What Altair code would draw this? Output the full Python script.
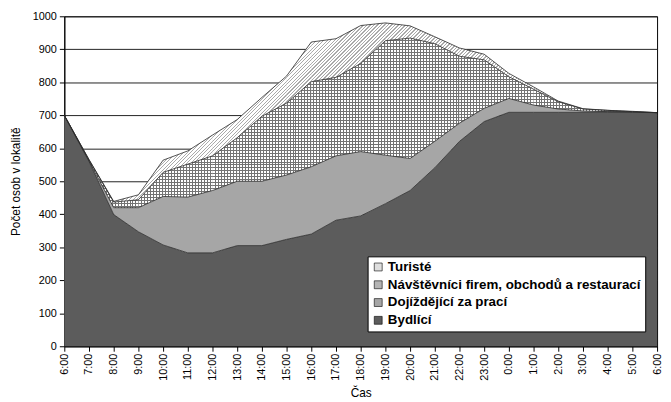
import math
import altair as alt
import pandas as pd

# ---- data -------------------------------------------------------------
times = ["6:00", "7:00", "8:00", "9:00", "10:00", "11:00", "12:00", "13:00",
         "14:00", "15:00", "16:00", "17:00", "18:00", "19:00", "20:00", "21:00",
         "22:00", "23:00", "0:00", "1:00", "2:00", "3:00", "4:00", "5:00", "6:00"]

series_names = ["Bydlící", "Dojíždějící za prací",
                "Návštěvníci firem, obchodů a restaurací", "Turisté"]

bydlici = [700, 560, 399, 347, 307, 283, 283, 305, 305, 324, 340, 382, 395,
           432, 472, 541, 621, 681, 709, 709, 709, 709, 709, 709, 708]
dojizdejici = [0, 2, 21, 73, 147, 169, 189, 195, 195, 195, 204, 195, 195,
               147, 97, 80, 55, 40, 42, 22, 10, 4, 2, 1, 0]
navstevnici = [0, 3, 17, 24, 73, 100, 105, 132, 197, 218, 258, 238, 267,
               347, 365, 296, 203, 147, 66, 48, 22, 6, 4, 1, 0]
turiste = [0, 1, 2, 15, 37, 40, 63, 55, 57, 82, 120, 117, 115,
           54, 37, 21, 25, 17, 10, 7, 2, 1, 0, 1, 0]

y_ticks = list(range(0, 1001, 100))

# ---- long table -------------------------------------------------------
rows = []
for order, (name, vals) in enumerate(zip(series_names,
                                         [bydlici, dojizdejici, navstevnici, turiste])):
    for i, v in enumerate(vals):
        rows.append({"i": i, "s": name, "v": v, "o": order})
df = pd.DataFrame(rows)

# ---- geometry used only for the hatch fills ----------------------------
PLOT_W, PLOT_H = 600, 334
N = len(times) - 1
SEG_W = PLOT_W / N


def px_y(v):
    return PLOT_H * (1 - v / 1000.0)


def line_stops(start, length, period, width, line, bg):
    stops = [{"offset": 0, "color": bg}]
    m = math.floor((start - width) / period)
    while True:
        a = m * period
        if a >= start + length:
            break
        b = a + width
        oa = max(0.0, (a - start) / length)
        ob = min(1.0, (b - start) / length)
        if ob > oa:
            oa, ob = round(oa, 6), round(ob, 6)
            stops += [{"offset": oa, "color": bg}, {"offset": oa, "color": line},
                      {"offset": ob, "color": line}, {"offset": ob, "color": bg}]
        m += 1
    stops.append({"offset": 1, "color": bg})
    return stops


doj_top = [a + b for a, b in zip(bydlici, dojizdejici)]
nav_top = [a + b for a, b in zip(doj_top, navstevnici)]
tur_top = [a + b for a, b in zip(nav_top, turiste)]

legend_order = ["Turisté", "Návštěvníci firem, obchodů a restaurací",
                "Dojíždějící za prací", "Bydlící"]
legend_colors = ["#dedede", "#b4b4b4", "#a6a6a6", "#5c5c5c"]

label_expr = "[" + ",".join("'%s'" % t for t in times) + "][datum.value]"

x_enc = alt.X("i:Q",
              scale=alt.Scale(domain=[0, N], nice=False, zero=False),
              axis=alt.Axis(values=list(range(len(times))), labelExpr=label_expr,
                            title="Čas", labelAngle=270, labelAlign="right",
                            labelBaseline="middle", labelPadding=2, grid=False,
                            titleX=PLOT_W / 2, titleY=51, titleAlign="center",
                            titleBaseline="alphabetic"))
y_enc = alt.Y("y1:Q",
              scale=alt.Scale(domain=[0, 1000], nice=False),
              axis=alt.Axis(values=y_ticks, format="d", title="Počet osob v lokalitě",
                            grid=True, labelPadding=3, titleAngle=270, titleX=-49,
                            titleY=PLOT_H / 2, titleAlign="center",
                            titleBaseline="middle"))

base = alt.Chart(df).transform_stack(
    stack="v", groupby=["i"], as_=["y0", "y1"],
    sort=[alt.SortField("o", order="ascending")]
)

solid = base.mark_area(interpolate="linear").encode(
    x=x_enc, y=y_enc, y2="y0:Q",
    color=alt.Color("s:N",
                    scale=alt.Scale(domain=legend_order, range=legend_colors),
                    legend=alt.Legend(title=None, orient="none", legendX=307, legendY=243,
                                      direction="vertical", fillColor="white",
                                      strokeColor="black", padding=4,
                                      labelFont="Liberation Sans", labelFontSize=13.5,
                                      labelFontWeight="bold", labelColor="black",
                                      symbolType="square", symbolSize=64,
                                      symbolStrokeColor="black", symbolStrokeWidth=0.6,
                                      symbolOpacity=1, labelLimit=400, rowPadding=3,
                                      labelOffset=3)),
)

layers = [solid]
HATCH = "#737373"
DIAG = "#aaaaaa"
CLEAR = "rgba(255,255,255,0)"

for s in range(N):
    seg_filter = (alt.datum.i >= s) & (alt.datum.i <= s + 1)
    x0 = SEG_W * s

    # crosshatch for visitors
    lo = [doj_top[s], doj_top[s + 1]]
    hi = [nav_top[s], nav_top[s + 1]]
    if max(hi[0] - lo[0], hi[1] - lo[1]) > 0:
        y_t = px_y(max(hi))
        h = px_y(min(lo)) - y_t
        if h > 0.3:
            gh = {"gradient": "linear", "x1": 0, "y1": 0, "x2": 0, "y2": 1,
                  "stops": line_stops(y_t, h, 3, 1, HATCH, "#ffffff")}
            gv = {"gradient": "linear", "x1": 0, "y1": 0, "x2": 1, "y2": 0,
                  "stops": line_stops(x0, SEG_W, 3, 1, HATCH, CLEAR)}
            sub = base.transform_filter(alt.datum.s == series_names[2]).transform_filter(seg_filter)
            layers.append(sub.mark_area(fill=gh, interpolate="linear").encode(
                x=x_enc, y=y_enc, y2="y0:Q"))
            layers.append(sub.mark_area(fill=gv, interpolate="linear").encode(
                x=x_enc, y=y_enc, y2="y0:Q"))

    # diagonal hatch for tourists
    lo = [nav_top[s], nav_top[s + 1]]
    hi = [tur_top[s], tur_top[s + 1]]
    if max(hi[0] - lo[0], hi[1] - lo[1]) > 0:
        y_t = px_y(max(hi))
        h = px_y(min(lo)) - y_t
        if h > 0.3:
            w = SEG_W
            kk = (w + h) * w / (w * w + h * h)
            gd = {"gradient": "linear", "x1": 0, "y1": 0,
                  "x2": round(kk, 6), "y2": round(kk * h / w, 6),
                  "stops": line_stops(x0 + y_t, w + h, 2.5 * math.sqrt(2),
                                      1.0 * math.sqrt(2), DIAG, "#ffffff")}
            sub = base.transform_filter(alt.datum.s == series_names[3]).transform_filter(seg_filter)
            layers.append(sub.mark_area(fill=gd, interpolate="linear").encode(
                x=x_enc, y=y_enc, y2="y0:Q"))

lines = base.mark_line(color="#2a2a2a", strokeWidth=0.8, interpolate="linear").encode(
    x=x_enc, y=y_enc, detail="s:N")
layers.append(lines)

chart = alt.layer(*layers).properties(
    width=PLOT_W, height=PLOT_H,
    autosize=alt.AutoSizeParams(type="none"),
    padding={"left": 57, "top": 6, "right": 6, "bottom": 52},
    background="white",
).configure_view(
    stroke="black", strokeWidth=1
).configure_axis(
    labelFont="Liberation Sans", labelFontSize=11, labelColor="black",
    titleFont="Liberation Sans", titleFontSize=12, titleFontWeight="normal",
    titleColor="black", domainColor="black", tickColor="black", tickSize=5,
    gridColor="#222222", gridWidth=1
)

chart.save("out.html", embed_options={"renderer": "svg", "actions": False})
